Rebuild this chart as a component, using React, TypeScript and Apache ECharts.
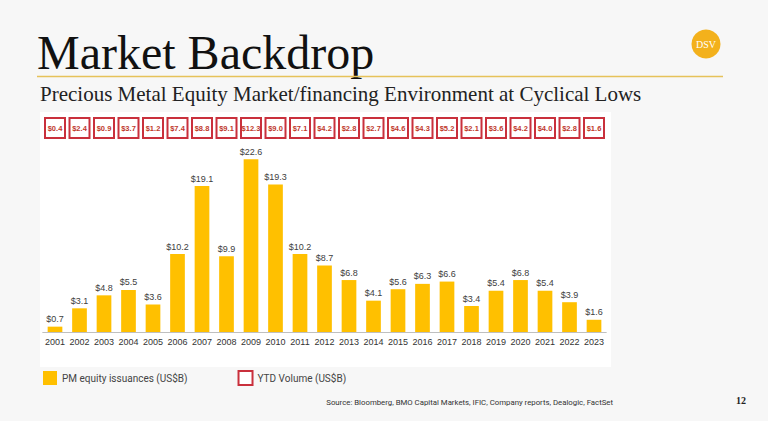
import React, { useEffect, useRef } from "react";
import * as echarts from "echarts";

const years = ["2001","2002","2003","2004","2005","2006","2007","2008","2009","2010","2011","2012","2013","2014","2015","2016","2017","2018","2019","2020","2021","2022","2023"];
const pmIssuances = [0.7,3.1,4.8,5.5,3.6,10.2,19.1,9.9,22.6,19.3,10.2,8.7,6.8,4.1,5.6,6.3,6.6,3.4,5.4,6.8,5.4,3.9,1.6];
const ytdVolume = [0.4,2.4,0.9,3.7,1.2,7.4,8.8,9.1,12.3,9.0,7.1,4.2,2.8,2.7,4.6,4.3,5.2,2.1,3.6,4.2,4.0,2.8,1.6];

const TITLE = "Market Backdrop";
const SUBTITLE = "Precious Metal Equity Market/financing Environment at Cyclical Lows";
const SOURCE = "Source: Bloomberg, BMO Capital Markets, IFIC, Company reports, Dealogic, FactSet";
const PAGE = "12";
const S1 = "PM equity issuances (US$B)";
const S2 = "YTD Volume (US$B)";

export default function App() {
  const ref = useRef<HTMLDivElement>(null);
  useEffect(() => {
    if (!ref.current) return;
    const chart = echarts.init(ref.current, null, { renderer: "svg" });
    const serif = "'Liberation Serif', 'DejaVu Serif', serif";
    const sans = "'Liberation Sans', Arial, sans-serif";
    chart.setOption({
      animation: false,
      backgroundColor: "#f7f7f7",
      graphic: [
        { type: "rect", shape: { x: 40, y: 112, width: 571, height: 255 }, style: { fill: "#ffffff" }, z: -10 },
        { type: "text", x: 37, y: 28, style: { text: TITLE, font: `48px ${serif}`, fill: "#111111" } },
        { type: "line", shape: { x1: 37, y1: 76.5, x2: 723, y2: 76.5 }, style: { stroke: "#e6c25a", lineWidth: 1.5 } },
        { type: "text", x: 40, y: 83.5, style: { text: SUBTITLE, font: `21px ${serif}`, fill: "#222222" } },
        { type: "circle", shape: { cx: 706, cy: 44, r: 14.5 }, style: { fill: "#f3b11c" } },
        { type: "text", x: 706, y: 44, style: { text: "DSV", font: `10px ${serif}`, fill: "#ffffff", align: "center", verticalAlign: "middle" } },
        { type: "text", x: 613, y: 402, style: { text: SOURCE, font: `7.8px Roboto, sans-serif`, fill: "#333333", align: "right", verticalAlign: "middle" } },
        { type: "text", x: 741, y: 400, style: { text: PAGE, font: `bold 10px ${serif}`, fill: "#222222", align: "center", verticalAlign: "middle" } },
      ],
      legend: {
        left: 38,
        top: 365,
        itemWidth: 14,
        itemHeight: 14,
        itemGap: 50,
        textStyle: { fontSize: 10, color: "#444444", fontFamily: "Roboto, sans-serif" },
        data: [
          { name: S1, icon: "rect" },
          { name: S2, icon: "rect", itemStyle: { color: "#ffffff", borderColor: "#c9303c", borderWidth: 2 } },
        ],
      },
      grid: [
        { left: 42.75, right: 161.75, top: 141, bottom: 89 },
        { left: 42.75, right: 161.75, top: 117, height: 22 },
      ],
      xAxis: [
        {
          type: "category",
          data: years,
          gridIndex: 0,
          axisLine: { lineStyle: { color: "#bfbfbf" } },
          axisTick: { lineStyle: { color: "#bfbfbf" }, length: 4 },
          axisLabel: { fontSize: 9, color: "#333333", fontFamily: sans, margin: 5, interval: 0 },
        },
        { type: "category", data: years, gridIndex: 1, show: false },
      ],
      yAxis: [
        { type: "value", min: 0, max: 25, gridIndex: 0, show: false, splitLine: { show: false } },
        { type: "value", min: -1, max: 1, gridIndex: 1, show: false, splitLine: { show: false } },
      ],
      series: [
        {
          name: S1,
          type: "bar",
          data: pmIssuances,
          xAxisIndex: 0,
          yAxisIndex: 0,
          barWidth: "60%",
          itemStyle: { color: "#ffc000" },
          label: {
            show: true,
            position: "top",
            distance: 3,
            fontSize: 9,
            color: "#404040",
            fontFamily: sans,
            formatter: (p: any) => "$" + Number(p.value).toFixed(1),
          },
        },
        {
          name: S2,
          type: "scatter",
          xAxisIndex: 1,
          yAxisIndex: 1,
          data: ytdVolume.map((v, i) => [years[i], 0, v]),
          symbol: "rect",
          symbolSize: 20,
          itemStyle: { color: "#ffffff", borderColor: "#c9303c", borderWidth: 2, opacity: 1 },
          label: {
            show: true,
            position: "inside",
            fontSize: 7.5,
            fontWeight: "bold",
            color: "#c0392b",
            fontFamily: sans,
            formatter: (p: any) => "$" + Number(p.value[2]).toFixed(1),
          },
        },
      ],
    });
    return () => chart.dispose();
  }, []);
  return <div ref={ref} style={{ position: "fixed", left: 0, top: 0, width: 768, height: 421 }} />;
}
